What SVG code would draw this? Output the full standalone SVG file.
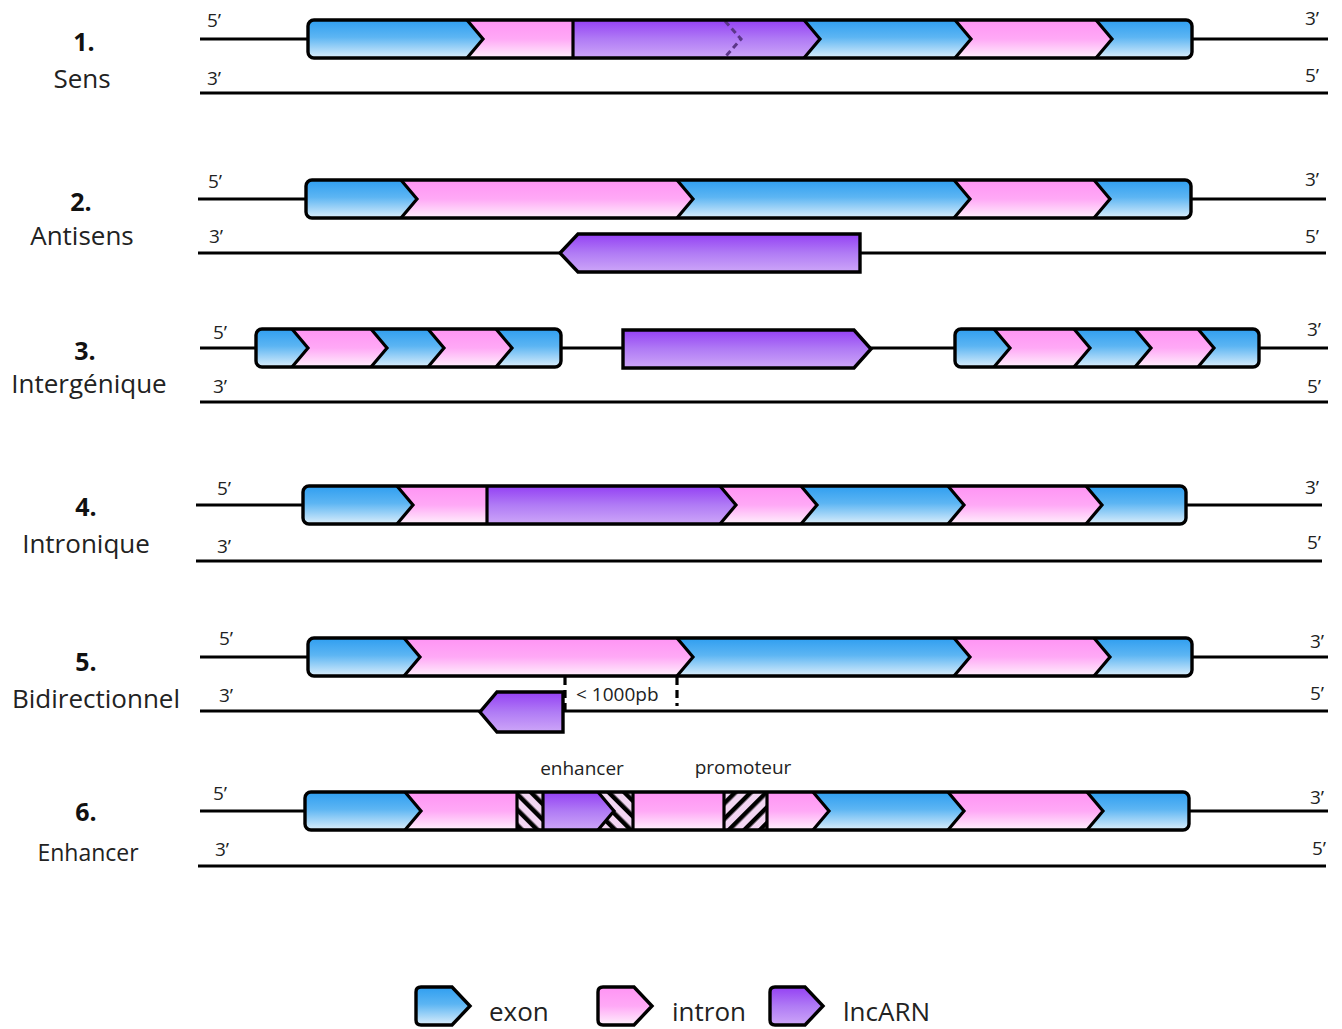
<svg xmlns="http://www.w3.org/2000/svg" width="1342" height="1029" viewBox="0 0 1342 1029">
<style>
.lbl{font-family:"Open Sans","Liberation Sans",sans-serif;fill:#222;}
.num{font-family:"Open Sans","Liberation Sans",sans-serif;font-weight:bold;font-size:25px;fill:#111;text-anchor:middle;}
.name{font-size:26px;text-anchor:middle;}
.end{font-size:19px;}
.strand{stroke:#000;stroke-width:3.2;fill:none;}
.ex{fill:url(#gEx);}
.in{fill:url(#gIn);}
.lnc{fill:url(#gLnc);}
.hb{fill:url(#hBack);}
.hf{fill:url(#hFwd);}
.sep{stroke:#000;stroke-width:3.2;fill:none;stroke-linejoin:miter;}
.frame{stroke:#000;stroke-width:3.4;fill:none;}
.out{stroke:#000;stroke-width:3.4;stroke-linejoin:miter;}
</style>
<defs>
<linearGradient id="gEx" x1="0" y1="0" x2="0" y2="1">
<stop offset="0" stop-color="#2f9ef0"/><stop offset="0.45" stop-color="#5cb5f3"/><stop offset="1" stop-color="#dbeefb"/>
</linearGradient>
<linearGradient id="gIn" x1="0" y1="0" x2="0" y2="1">
<stop offset="0" stop-color="#ff94f4"/><stop offset="0.5" stop-color="#ffa9f6"/><stop offset="1" stop-color="#fff0fc"/>
</linearGradient>
<linearGradient id="gLnc" x1="0" y1="0" x2="0" y2="1">
<stop offset="0" stop-color="#9440f4"/><stop offset="0.5" stop-color="#b07bf5"/><stop offset="1" stop-color="#cda6f8"/>
</linearGradient>
<pattern id="hBack" patternUnits="userSpaceOnUse" width="11" height="11" patternTransform="rotate(-45)">
<rect width="11" height="11" fill="#f3d6f3"/><rect width="4.5" height="11" fill="#000"/>
</pattern>
<pattern id="hFwd" patternUnits="userSpaceOnUse" width="11" height="11" patternTransform="rotate(45)">
<rect width="11" height="11" fill="#f3d6f3"/><rect width="4.5" height="11" fill="#000"/>
</pattern>
<clipPath id="c1"><rect x="308" y="20" width="884" height="38" rx="6"/></clipPath>
<clipPath id="c2"><rect x="306" y="180" width="885" height="38" rx="6"/></clipPath>
<clipPath id="c3a"><rect x="256" y="329" width="305" height="38" rx="6"/></clipPath>
<clipPath id="c3b"><rect x="955" y="329" width="304" height="38" rx="6"/></clipPath>
<clipPath id="c4"><rect x="303" y="486" width="883" height="38" rx="6"/></clipPath>
<clipPath id="c5"><rect x="308" y="638" width="884" height="38" rx="6"/></clipPath>
<clipPath id="c6"><rect x="305" y="792" width="884" height="38" rx="6"/></clipPath>
</defs>

<g id="labels" class="lbl">
<text class="num" x="84" y="51">1.</text>
<text class="lbl name" x="82" y="88">Sens</text>
<text class="num" x="81" y="211">2.</text>
<text class="lbl name" x="82" y="245">Antisens</text>
<text class="num" x="85" y="360">3.</text>
<text class="lbl name" x="89" y="393">Intergénique</text>
<text class="num" x="86" y="516">4.</text>
<text class="lbl name" x="86" y="553">Intronique</text>
<text class="num" x="86" y="671">5.</text>
<text class="lbl name" x="96" y="708">Bidirectionnel</text>
<text class="num" x="86" y="821">6.</text>
<text class="lbl" x="88" y="861" font-size="23" text-anchor="middle">Enhancer</text>
</g>

<g id="connectors">
<line class="strand" x1="200" y1="39" x2="1328" y2="39"/>
<line class="strand" x1="200" y1="93" x2="1328" y2="93"/>
<line class="strand" x1="198" y1="199" x2="1326" y2="199"/>
<line class="strand" x1="198" y1="253" x2="1326" y2="253"/>
<line class="strand" x1="200" y1="348" x2="1328" y2="348"/>
<line class="strand" x1="200" y1="402" x2="1328" y2="402"/>
<line class="strand" x1="196" y1="505" x2="1322" y2="505"/>
<line class="strand" x1="196" y1="561" x2="1322" y2="561"/>
<line class="strand" x1="200" y1="657" x2="1328" y2="657"/>
<line class="strand" x1="200" y1="711" x2="1328" y2="711"/>
<line class="strand" x1="200" y1="811" x2="1328" y2="811"/>
<line class="strand" x1="198" y1="866" x2="1326" y2="866"/>
</g>

<g id="ends" class="lbl end">
<text x="207" y="27">5’</text><text x="207" y="85">3’</text><text x="1305" y="25">3’</text><text x="1305" y="82">5’</text>
<text x="208" y="188">5’</text><text x="209" y="243">3’</text><text x="1305" y="186">3’</text><text x="1305" y="243">5’</text>
<text x="213" y="339">5’</text><text x="213" y="393">3’</text><text x="1307" y="336">3’</text><text x="1307" y="393">5’</text>
<text x="217" y="495">5’</text><text x="217" y="553">3’</text><text x="1305" y="494">3’</text><text x="1307" y="549">5’</text>
<text x="219" y="645">5’</text><text x="219" y="702">3’</text><text x="1310" y="648">3’</text><text x="1310" y="700">5’</text>
<text x="213" y="800">5’</text><text x="215" y="856">3’</text><text x="1310" y="804">3’</text><text x="1312" y="855">5’</text>
</g>

<g id="gene1">
<g clip-path="url(#c1)">
<polygon class="ex" points="308,20 467,20 483,39 467,58 308,58"/>
<polygon class="in" points="467,20 573,20 573,58 467,58 483,39"/>
<polygon class="lnc" points="573,20 804,20 820,39 804,58 573,58"/>
<polygon class="ex" points="804,20 955,20 971,39 955,58 804,58 820,39"/>
<polygon class="in" points="955,20 1096,20 1112,39 1096,58 955,58 971,39"/>
<polygon class="ex" points="1096,20 1192,20 1192,58 1096,58 1112,39"/>
</g>
<polyline class="sep" points="467,20 483,39 467,58"/>
<line class="sep" x1="573" y1="20" x2="573" y2="58"/>
<polyline points="725,21 741,39 725,57" fill="none" stroke="#5b3688" stroke-width="3" stroke-dasharray="6 4"/>
<polyline class="sep" points="804,20 820,39 804,58"/>
<polyline class="sep" points="955,20 971,39 955,58"/>
<polyline class="sep" points="1096,20 1112,39 1096,58"/>
<rect class="frame" x="308" y="20" width="884" height="38" rx="6"/>
</g>

<g id="gene2">
<g clip-path="url(#c2)">
<polygon class="ex" points="306,180 401,180 417,199 401,218 306,218"/>
<polygon class="in" points="401,180 677,180 693,199 677,218 401,218 417,199"/>
<polygon class="ex" points="677,180 954,180 970,199 954,218 677,218 693,199"/>
<polygon class="in" points="954,180 1094,180 1110,199 1094,218 954,218 970,199"/>
<polygon class="ex" points="1094,180 1191,180 1191,218 1094,218 1110,199"/>
</g>
<polyline class="sep" points="401,180 417,199 401,218"/>
<polyline class="sep" points="677,180 693,199 677,218"/>
<polyline class="sep" points="954,180 970,199 954,218"/>
<polyline class="sep" points="1094,180 1110,199 1094,218"/>
<rect class="frame" x="306" y="180" width="885" height="38" rx="6"/>
</g>
<g id="lnc2">
<polygon class="lnc out" points="860,234 578,234 560,253 578,272 860,272"/>
</g>

<g id="gene3a">
<g clip-path="url(#c3a)">
<polygon class="ex" points="256,329 292,329 308,348 292,367 256,367"/>
<polygon class="in" points="292,329 371,329 387,348 371,367 292,367 308,348"/>
<polygon class="ex" points="371,329 428,329 444,348 428,367 371,367 387,348"/>
<polygon class="in" points="428,329 496,329 512,348 496,367 428,367 444,348"/>
<polygon class="ex" points="496,329 561,329 561,367 496,367 512,348"/>
</g>
<polyline class="sep" points="292,329 308,348 292,367"/>
<polyline class="sep" points="371,329 387,348 371,367"/>
<polyline class="sep" points="428,329 444,348 428,367"/>
<polyline class="sep" points="496,329 512,348 496,367"/>
<rect class="frame" x="256" y="329" width="305" height="38" rx="6"/>
</g>
<g id="lnc3">
<polygon class="lnc out" points="623,330 854,330 871,349 854,368 623,368"/>
</g>
<g id="gene3b">
<g clip-path="url(#c3b)">
<polygon class="ex" points="955,329 994,329 1010,348 994,367 955,367"/>
<polygon class="in" points="994,329 1074,329 1090,348 1074,367 994,367 1010,348"/>
<polygon class="ex" points="1074,329 1135,329 1151,348 1135,367 1074,367 1090,348"/>
<polygon class="in" points="1135,329 1198,329 1214,348 1198,367 1135,367 1151,348"/>
<polygon class="ex" points="1198,329 1259,329 1259,367 1198,367 1214,348"/>
</g>
<polyline class="sep" points="994,329 1010,348 994,367"/>
<polyline class="sep" points="1074,329 1090,348 1074,367"/>
<polyline class="sep" points="1135,329 1151,348 1135,367"/>
<polyline class="sep" points="1198,329 1214,348 1198,367"/>
<rect class="frame" x="955" y="329" width="304" height="38" rx="6"/>
</g>

<g id="gene4">
<g clip-path="url(#c4)">
<polygon class="ex" points="303,486 397,486 413,505 397,524 303,524"/>
<polygon class="in" points="397,486 487,486 487,524 397,524 413,505"/>
<polygon class="lnc" points="487,486 720,486 736,505 720,524 487,524"/>
<polygon class="in" points="720,486 801,486 817,505 801,524 720,524 736,505"/>
<polygon class="ex" points="801,486 948,486 964,505 948,524 801,524 817,505"/>
<polygon class="in" points="948,486 1086,486 1102,505 1086,524 948,524 964,505"/>
<polygon class="ex" points="1086,486 1186,486 1186,524 1086,524 1102,505"/>
</g>
<polyline class="sep" points="397,486 413,505 397,524"/>
<line class="sep" x1="487" y1="486" x2="487" y2="524"/>
<polyline class="sep" points="720,486 736,505 720,524"/>
<polyline class="sep" points="801,486 817,505 801,524"/>
<polyline class="sep" points="948,486 964,505 948,524"/>
<polyline class="sep" points="1086,486 1102,505 1086,524"/>
<rect class="frame" x="303" y="486" width="883" height="38" rx="6"/>
</g>

<g id="gene5">
<g clip-path="url(#c5)">
<polygon class="ex" points="308,638 404,638 420,657 404,676 308,676"/>
<polygon class="in" points="404,638 677,638 693,657 677,676 404,676 420,657"/>
<polygon class="ex" points="677,638 954,638 970,657 954,676 677,676 693,657"/>
<polygon class="in" points="954,638 1094,638 1110,657 1094,676 954,676 970,657"/>
<polygon class="ex" points="1094,638 1192,638 1192,676 1094,676 1110,657"/>
</g>
<polyline class="sep" points="404,638 420,657 404,676"/>
<polyline class="sep" points="677,638 693,657 677,676"/>
<polyline class="sep" points="954,638 970,657 954,676"/>
<polyline class="sep" points="1094,638 1110,657 1094,676"/>
<rect class="frame" x="308" y="638" width="884" height="38" rx="6"/>
</g>
<g id="lnc5">
<polygon class="lnc out" points="563,692 497,692 480,712 497,732 563,732"/>
<line x1="565" y1="677" x2="565" y2="711" stroke="#000" stroke-width="3.2" stroke-dasharray="8 5"/>
<line x1="677" y1="677" x2="677" y2="706" stroke="#000" stroke-width="3.2" stroke-dasharray="8 5"/>
<text class="lbl" x="576" y="701" font-size="19">&lt; 1000pb</text>
</g>

<g id="gene6">
<g clip-path="url(#c6)">
<polygon class="ex" points="305,792 405,792 421,811 405,830 305,830"/>
<polygon class="in" points="405,792 517,792 517,830 405,830 421,811"/>
<polygon class="hb" points="517,792 543,792 543,830 517,830"/>
<polygon class="lnc" points="543,792 598,792 614,811 598,830 543,830"/>
<polygon class="hb" points="598,792 633,792 633,830 598,830 614,811"/>
<polygon class="in" points="633,792 724,792 724,830 633,830"/>
<polygon class="hf" points="724,792 767,792 767,830 724,830"/>
<polygon class="in" points="767,792 813,792 829,811 813,830 767,830"/>
<polygon class="ex" points="813,792 948,792 964,811 948,830 813,830 829,811"/>
<polygon class="in" points="948,792 1087,792 1103,811 1087,830 948,830 964,811"/>
<polygon class="ex" points="1087,792 1189,792 1189,830 1087,830 1103,811"/>
</g>
<polyline class="sep" points="405,792 421,811 405,830"/>
<line class="sep" x1="517" y1="792" x2="517" y2="830"/>
<line class="sep" x1="543" y1="792" x2="543" y2="830"/>
<polyline class="sep" points="598,792 614,811 598,830"/>
<line class="sep" x1="633" y1="792" x2="633" y2="830"/>
<line class="sep" x1="724" y1="792" x2="724" y2="830"/>
<line class="sep" x1="767" y1="792" x2="767" y2="830"/>
<polyline class="sep" points="813,792 829,811 813,830"/>
<polyline class="sep" points="948,792 964,811 948,830"/>
<polyline class="sep" points="1087,792 1103,811 1087,830"/>
<rect class="frame" x="305" y="792" width="884" height="38" rx="6"/>
<text class="lbl" x="582" y="775" font-size="19" text-anchor="middle">enhancer</text>
<text class="lbl" x="743" y="774" font-size="19" text-anchor="middle">promoteur</text>
</g>

<g id="legend">
<path class="ex out" d="M421,987 H452 L470,1006 L452,1025 H421 Q416,1025 416,1020 V992 Q416,987 421,987 Z"/>
<text class="lbl" x="489" y="1021" font-size="26">exon</text>
<path class="in out" d="M603,987 H634 L652,1006 L634,1025 H603 Q598,1025 598,1020 V992 Q598,987 603,987 Z"/>
<text class="lbl" x="672" y="1021" font-size="26">intron</text>
<path class="lnc out" d="M775,987 H805 L823,1006 L805,1025 H775 Q770,1025 770,1020 V992 Q770,987 775,987 Z"/>
<text class="lbl" x="843" y="1021" font-size="26">lncARN</text>
</g>
</svg>
